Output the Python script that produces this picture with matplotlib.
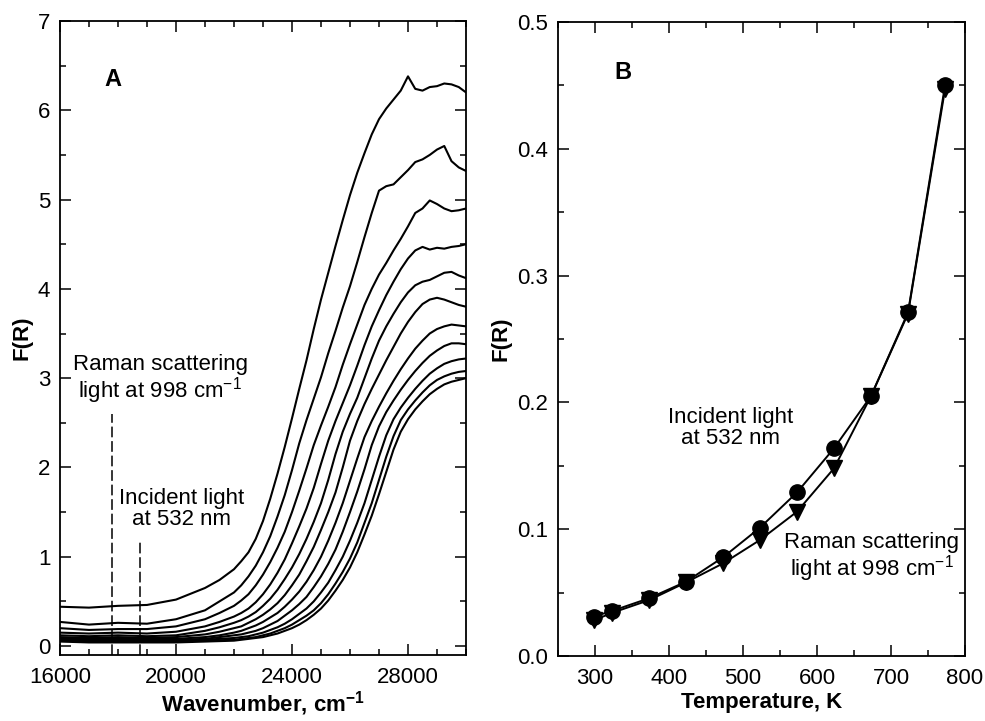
#panel A: F(R) spectra at temperatures, panel B: F(R) vs temperature
import numpy as np
import matplotlib
matplotlib.use("Agg")
from matplotlib import pyplot as plt
from matplotlib.ticker import MultipleLocator

plt.rcParams['font.family'] = ['Liberation Sans', 'DejaVu Sans']
plt.rcParams['mathtext.fontset'] = 'custom'
plt.rcParams['mathtext.rm'] = 'Liberation Sans'
plt.rcParams['mathtext.bf'] = 'Liberation Sans:bold'
plt.rcParams['mathtext.default'] = 'regular'

#dane panelu A
wavenumber = [16000, 17000, 18000, 19000, 20000, 21000, 21500,
              22000, 22250, 22500, 22750, 23000, 23250, 23500, 23750, 24000,
              24250, 24500, 24750, 25000, 25250, 25500, 25750, 26000,
              26250, 26500, 26750, 27000, 27250, 27500, 27750, 28000,
              28250, 28500, 28750, 29000, 29250, 29500, 29750, 30000]
spec_773 = [0.44, 0.43, 0.45, 0.46, 0.52, 0.65, 0.74,
            0.86, 0.95, 1.05, 1.2, 1.4, 1.65, 1.93, 2.23, 2.55,
            2.88, 3.2, 3.55, 3.88, 4.18, 4.48, 4.77, 5.05,
            5.3, 5.52, 5.73, 5.9, 6.02, 6.12, 6.22, 6.38,
            6.24, 6.22, 6.26, 6.27, 6.3, 6.29, 6.26, 6.2]
spec_723 = [0.27, 0.24, 0.26, 0.25, 0.3, 0.4, 0.5,
            0.6, 0.68, 0.78, 0.9, 1.05, 1.23, 1.45, 1.69, 1.97,
            2.27, 2.53, 2.77, 3.01, 3.28, 3.53, 3.79, 4.03,
            4.3, 4.58, 4.85, 5.1, 5.15, 5.17, 5.25, 5.33,
            5.42, 5.45, 5.5, 5.56, 5.6, 5.43, 5.36, 5.32]
spec_673 = [0.2, 0.18, 0.19, 0.19, 0.22, 0.3, 0.37,
            0.45, 0.51, 0.58, 0.68, 0.8, 0.94, 1.1, 1.28, 1.5,
            1.74, 1.99, 2.25, 2.47, 2.68, 2.9, 3.15, 3.38,
            3.6, 3.82, 4.0, 4.16, 4.29, 4.43, 4.56, 4.7,
            4.85, 4.9, 4.99, 4.95, 4.9, 4.87, 4.88, 4.9]
spec_623 = [0.15, 0.14, 0.15, 0.14, 0.16, 0.22, 0.27,
            0.33, 0.37, 0.42, 0.49, 0.58, 0.69, 0.82, 0.97, 1.15,
            1.34, 1.54, 1.77, 2.04, 2.3, 2.52, 2.72, 2.92,
            3.14, 3.37, 3.58, 3.76, 3.93, 4.08, 4.22, 4.34,
            4.43, 4.47, 4.44, 4.46, 4.45, 4.47, 4.48, 4.5]
spec_573 = [0.12, 0.11, 0.12, 0.11, 0.12, 0.17, 0.21,
            0.26, 0.29, 0.33, 0.38, 0.45, 0.53, 0.63, 0.75, 0.88,
            1.03, 1.2, 1.39, 1.6, 1.86, 2.15, 2.4, 2.6,
            2.78, 3.0, 3.22, 3.42, 3.58, 3.72, 3.85, 3.96,
            4.04, 4.08, 4.1, 4.14, 4.18, 4.19, 4.15, 4.12]
spec_523 = [0.1, 0.09, 0.1, 0.09, 0.1, 0.13, 0.16,
            0.2, 0.22, 0.26, 0.3, 0.35, 0.41, 0.48, 0.57, 0.68,
            0.8, 0.95, 1.11, 1.3, 1.5, 1.72, 2.0, 2.3,
            2.52, 2.71, 2.88, 3.04, 3.2, 3.35, 3.5, 3.63,
            3.74, 3.83, 3.88, 3.9, 3.88, 3.85, 3.82, 3.8]
spec_473 = [0.09, 0.08, 0.08, 0.08, 0.08, 0.1, 0.12,
            0.15, 0.17, 0.2, 0.23, 0.27, 0.32, 0.37, 0.44, 0.52,
            0.61, 0.72, 0.85, 1.0, 1.18, 1.38, 1.6, 1.85,
            2.1, 2.34, 2.52, 2.68, 2.83, 2.97, 3.1, 3.22,
            3.33, 3.42, 3.5, 3.55, 3.58, 3.6, 3.59, 3.58]
spec_423 = [0.08, 0.07, 0.07, 0.07, 0.07, 0.08, 0.1,
            0.12, 0.13, 0.15, 0.17, 0.2, 0.24, 0.28, 0.34, 0.4,
            0.47, 0.55, 0.66, 0.78, 0.92, 1.08, 1.28, 1.5,
            1.73, 1.98, 2.25, 2.46, 2.62, 2.75, 2.87, 2.98,
            3.08, 3.17, 3.25, 3.31, 3.36, 3.39, 3.39, 3.38]
spec_373 = [0.07, 0.06, 0.06, 0.06, 0.06, 0.07, 0.08,
            0.09, 0.1, 0.11, 0.13, 0.15, 0.18, 0.21, 0.25, 0.3,
            0.36, 0.42, 0.5, 0.6, 0.71, 0.85, 1.0, 1.18,
            1.38, 1.6, 1.86, 2.12, 2.36, 2.54, 2.67, 2.78,
            2.88, 2.97, 3.05, 3.11, 3.16, 3.19, 3.21, 3.22]
spec_323 = [0.06, 0.05, 0.05, 0.05, 0.05, 0.06, 0.065,
            0.07, 0.08, 0.09, 0.1, 0.12, 0.14, 0.17, 0.2, 0.24,
            0.29, 0.34, 0.4, 0.48, 0.58, 0.7, 0.83, 0.98,
            1.16, 1.38, 1.6, 1.86, 2.12, 2.35, 2.53, 2.65,
            2.75, 2.84, 2.92, 2.98, 3.02, 3.05, 3.07, 3.08]
spec_298 = [0.05, 0.04, 0.04, 0.04, 0.04, 0.05, 0.055,
            0.06, 0.07, 0.08, 0.09, 0.1, 0.12, 0.14, 0.17, 0.2,
            0.24, 0.29, 0.35, 0.42, 0.51, 0.62, 0.74, 0.88,
            1.05, 1.25, 1.46, 1.7, 1.95, 2.2, 2.4, 2.54,
            2.65, 2.74, 2.82, 2.88, 2.93, 2.96, 2.98, 3.0]
spectra = [spec_298, spec_323, spec_373, spec_423, spec_473, spec_523,
           spec_573, spec_623, spec_673, spec_723, spec_773]
raman_line = 17780
incident_line = 18750

#dane panelu B
temperature = [298, 323, 373, 423, 473, 523, 573, 623, 673, 723, 773]
incident = [0.031, 0.0355, 0.0455, 0.0586, 0.0778, 0.1012, 0.129, 0.1638, 0.205, 0.271, 0.450]
raman = [0.028, 0.034, 0.044, 0.058, 0.073, 0.0915, 0.1138, 0.148, 0.205, 0.270, 0.447]

fs = 16
fig = plt.figure(figsize=(9.85, 7.21), dpi=100)
ax1 = fig.add_axes([0.0609, 0.0916, 0.4122, 0.8793])
ax2 = fig.add_axes([0.5665, 0.0902, 0.4132, 0.8793])

#panel A
for s in spectra:
    ax1.plot(wavenumber, s, color="black", lw=1.5, solid_joinstyle="round")
ax1.plot([raman_line, raman_line], [-0.1, 2.6], color="black", lw=1.1, ls=(0, (7, 2.5)))
ax1.plot([incident_line, incident_line], [-0.1, 1.16], color="black", lw=1.1, ls=(0, (7, 2.5)))
ax1.text(19450, 2.98, "Raman scattering\nlight at 998 cm$^{-1}$", ha="center", va="center",
         fontsize=fs, linespacing=1.0)
ax1.text(20200, 1.53, "Incident light\nat 532 nm", ha="center", va="center",
         fontsize=fs, linespacing=1.0)
ax1.text(17830, 6.34, "A", ha="center", va="center", fontsize=fs + 1, fontweight="bold")
ax1.set_xlim(16000, 30000)
ax1.set_ylim(-0.1, 7)
ax1.xaxis.set_major_locator(MultipleLocator(4000))
ax1.xaxis.set_minor_locator(MultipleLocator(1000))
ax1.yaxis.set_major_locator(MultipleLocator(1))
ax1.yaxis.set_minor_locator(MultipleLocator(0.5))
ax1.set_xlabel(r"Wavenumber, cm$^{\mathbf{-1}}$", fontsize=fs, fontweight="bold", labelpad=0.5)
ax1.set_ylabel("F(R)", fontsize=fs, fontweight="bold", labelpad=4)

#panel B
ax2.plot(temperature, raman, color="black", lw=1.4, marker="v", ms=11)
ax2.plot(temperature, incident, color="black", lw=1.4, marker="o", ms=11)
ax2.text(483, 0.18, "Incident light\nat 532 nm", ha="center", va="center",
         fontsize=fs, linespacing=1.0)
ax2.text(674, 0.077, "Raman scattering\nlight at 998 cm$^{-1}$", ha="center", va="center",
         fontsize=fs, linespacing=1.0)
ax2.text(338, 0.46, "B", ha="center", va="center", fontsize=fs + 1, fontweight="bold")
ax2.set_xlim(250, 800)
ax2.set_ylim(0, 0.5)
ax2.xaxis.set_major_locator(MultipleLocator(100))
ax2.xaxis.set_minor_locator(MultipleLocator(50))
ax2.yaxis.set_major_locator(MultipleLocator(0.1))
ax2.yaxis.set_minor_locator(MultipleLocator(0.05))
ax2.yaxis.set_major_formatter(plt.FormatStrFormatter("%.1f"))
ax2.set_xlabel("Temperature, K", fontsize=fs, fontweight="bold", labelpad=2)
ax2.set_ylabel("F(R)", fontsize=fs, fontweight="bold", labelpad=4)

for ax in (ax1, ax2):
    ax.tick_params(which="both", direction="in", top=True, right=True, labelsize=fs, width=1.1)
    ax.tick_params(which="major", length=8)
    ax.tick_params(which="minor", length=4.5)
    ax.tick_params(axis="x", which="major", pad=9)
    ax.tick_params(axis="y", which="major", pad=7)
    for sp in ax.spines.values():
        sp.set_linewidth(1.3)

plt.savefig("out.png", dpi=100)
plt.close()
